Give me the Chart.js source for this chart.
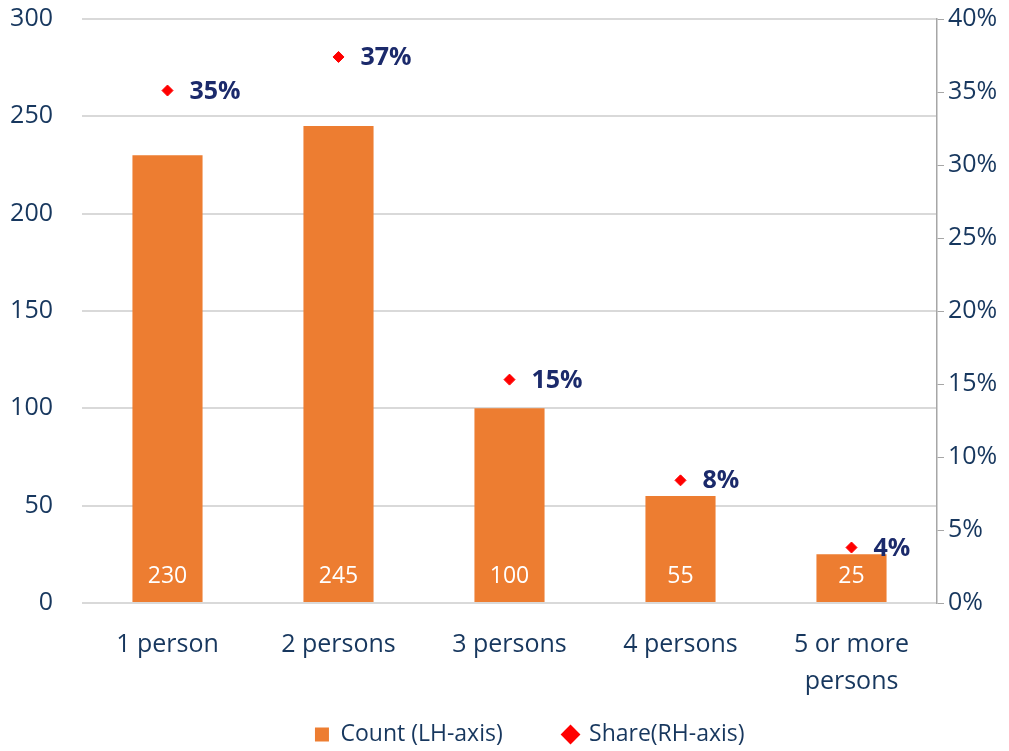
<!DOCTYPE html>
<html>
<head>
<meta charset="utf-8">
<script src="https://cdn.jsdelivr.net/npm/chart.js@4"></script>
<style>
  html, body { margin: 0; padding: 0; background: #fff; }
  #wrap { width: 1009px; height: 751px; }
</style>
</head>
<body>
<div id="wrap"><canvas id="myChart" width="1009" height="751"></canvas></div>
<script>
var categories = ['1 person', '2 persons', '3 persons', '4 persons', ['5 or more', 'persons']];
var counts = [230, 245, 100, 55, 25];
var shares = [35.1, 37.4, 15.3, 8.4, 3.8];
var leftTicks = [0, 50, 100, 150, 200, 250, 300];
var rightTicks = [0, 5, 10, 15, 20, 25, 30, 35, 40];
var seriesNames = ['Count (LH-axis)', 'Share(RH-axis)'];

var navy = '#17375E';
var font = '"Open Sans", sans-serif';
var gap = '\u00A0\u00A0\u00A0\u00A0\u00A0\u00A0';

// value labels: counts inside bars, shares next to the diamonds
var labelPlugin = {
    id: 'labels',
    afterDatasetsDraw: function (chart) {
        var ctx = chart.ctx;
        ctx.save();
        chart.getDatasetMeta(0).data.forEach(function (bar, i) {
            ctx.fillStyle = '#ffffff';
            ctx.font = '23px ' + font;
            ctx.textAlign = 'center';
            ctx.textBaseline = 'middle';
            ctx.fillText(counts[i], bar.x, bar.base - 26);
        });
        chart.getDatasetMeta(1).data.forEach(function (pt, i) {
            ctx.fillStyle = '#1B2A6B';
            ctx.font = 'bold 25px ' + font;
            ctx.textAlign = 'left';
            ctx.textBaseline = 'middle';
            ctx.fillText(Math.round(shares[i]) + '%', pt.x + 22, pt.y + 1);
        });
        ctx.restore();
    }
};

var ctx = document.getElementById('myChart').getContext('2d');
new Chart(ctx, {
    data: {
        labels: categories,
        datasets: [{
            type: 'bar',
            label: seriesNames[0],
            data: counts,
            backgroundColor: '#ED7D31',
            yAxisID: 'y',
            barPercentage: 0.41,
            categoryPercentage: 1,
            order: 2
        }, {
            type: 'line',
            label: seriesNames[1],
            data: shares,
            showLine: false,
            pointStyle: 'rectRot',
            pointRadius: 5.5,
            pointBackgroundColor: '#FF0000',
            pointBorderColor: '#FF0000',
            backgroundColor: '#FF0000',
            borderColor: '#FF0000',
            yAxisID: 'y1',
            order: 1
        }]
    },
    options: {
        responsive: false,
        animation: false,
        layout: { padding: { top: 0, left: 0, right: 0, bottom: -5 } },
        plugins: {
            legend: {
                position: 'bottom',
                labels: {
                    usePointStyle: true,
                    boxWidth: 14,
                    boxHeight: 14,
                    padding: 25,
                    color: navy,
                    font: { family: font, size: 23 },
                    generateLabels: function (chart) {
                        return [{
                            // blank spacer so the pair sits a little right of centre
                            text: '', fillStyle: 'rgba(0,0,0,0)', strokeStyle: 'rgba(0,0,0,0)',
                            lineWidth: 0, pointStyle: 'rect', fontColor: navy
                        }, {
                            text: seriesNames[0] + gap, fillStyle: '#ED7D31', strokeStyle: '#ED7D31',
                            lineWidth: 0, pointStyle: 'rect', fontColor: navy, datasetIndex: 0
                        }, {
                            text: seriesNames[1], fillStyle: '#FF0000', strokeStyle: '#FF0000',
                            lineWidth: 0, pointStyle: 'rectRot', fontColor: navy, datasetIndex: 1
                        }];
                    }
                }
            },
            tooltip: { enabled: false }
        },
        scales: {
            x: {
                grid: { display: false },
                border: { display: false },
                ticks: { color: navy, font: { family: font, size: 25, lineHeight: 1.45 }, padding: 16 },
                afterFit: function (scale) { scale.height = 95; }
            },
            y: {
                position: 'left',
                min: 0,
                max: 300,
                afterBuildTicks: function (axis) {
                    axis.ticks = leftTicks.map(function (v) { return { value: v }; });
                },
                grid: { color: '#D9D9D9', lineWidth: 2, drawTicks: true, tickLength: 25, tickColor: 'rgba(0,0,0,0)' },
                border: { display: false },
                ticks: { color: navy, font: { family: font, size: 25 }, padding: 4 },
                afterFit: function (scale) { scale.width = 82; }
            },
            y1: {
                position: 'right',
                min: 0,
                max: 40,
                afterBuildTicks: function (axis) {
                    axis.ticks = rightTicks.map(function (v) { return { value: v }; });
                },
                grid: { drawOnChartArea: false, color: '#A6A6A6', tickLength: 7 },
                border: { display: true, color: '#A6A6A6', width: 1.5 },
                ticks: {
                    color: navy, font: { family: font, size: 25 }, padding: 4,
                    callback: function (v) { return v + '%'; }
                },
                afterFit: function (scale) { scale.width = 72; }
            }
        }
    },
    plugins: [labelPlugin]
});
</script>
</body>
</html>
